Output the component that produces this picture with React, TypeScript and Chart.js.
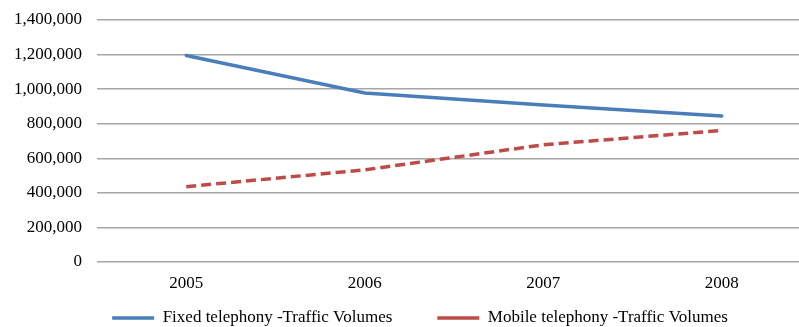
import { useEffect, useRef } from "react";
import { Chart, registerables } from "chart.js";

Chart.register(...registerables);

// Traffic volumes per year
const years = ["2005", "2006", "2007", "2008"];
const fixedTraffic = [1195000, 978000, 908000, 845000];
const mobileTraffic = [436000, 533000, 678000, 761000];

const fixedLabel = "Fixed telephony -Traffic Volumes";
const mobileLabel = "Mobile telephony -Traffic Volumes";

const yMin = 0;
const yMax = 1400000;
const yStep = 200000;

const FONT = "'Liberation Serif', 'Times New Roman', serif";

const CANVAS_W = 811;
const CANVAS_H = 327;

// Moves the bottom legend after layout so it sits centred under the page
// rather than under the wider canvas, and closer to the year labels.
const legendOffset = {
  id: "legendOffset",
  afterLayout(chart: any) {
    const lg = chart.legend;
    if (!lg) return;
    const dx = 14.5;
    const dy = -32.5;
    lg.left += dx;
    lg.right += dx;
    lg.top += dy;
    lg.bottom = CANVAS_H;
    lg.height = lg.bottom - lg.top;
  },
};

export default function App() {
  const canvasRef = useRef<HTMLCanvasElement | null>(null);

  useEffect(() => {
    const canvas = canvasRef.current;
    if (!canvas) return;

    const chart = new Chart(canvas, {
      type: "line",
      data: {
        labels: years,
        datasets: [
          {
            label: fixedLabel,
            data: fixedTraffic,
            borderColor: "#4a7ebb",
            backgroundColor: "#4a7ebb",
            borderWidth: 3.5,
            pointRadius: 0,
            tension: 0,
            borderCapStyle: "round",
            borderJoinStyle: "round",
          },
          {
            label: mobileLabel,
            data: mobileTraffic,
            borderColor: "#be4b48",
            backgroundColor: "#be4b48",
            borderWidth: 3.5,
            borderDash: [10, 5],
            pointRadius: 0,
            tension: 0,
          },
        ],
      },
      options: {
        responsive: false,
        animation: false,
        devicePixelRatio: 1,
        layout: { padding: { left: 0, right: 0, top: 20, bottom: 0 } },
        plugins: {
          tooltip: { enabled: false },
          legend: {
            position: "bottom",
            maxHeight: 30,
            labels: {
              usePointStyle: true,
              pointStyle: "line",
              pointStyleWidth: 42,
              padding: 45,
              color: "#000",
              font: { family: FONT, size: 17 },
            },
          },
        },
        scales: {
          x: {
            offset: true,
            grid: { display: false },
            border: { display: false },
            ticks: {
              color: "#000",
              padding: 3,
              maxRotation: 0,
              font: { family: FONT, size: 17 },
            },
            afterFit: (scale: any) => {
              scale.height = 35;
            },
          },
          y: {
            min: yMin,
            max: yMax,
            grid: { color: "#a6a6a6", lineWidth: 1.5, drawTicks: false },
            border: { display: false },
            ticks: {
              stepSize: yStep,
              padding: 15,
              color: "#000",
              font: { family: FONT, size: 17 },
              callback: (v: any) => Number(v).toLocaleString("en-US"),
            },
            afterFit: (scale: any) => {
              scale.width = 97;
              scale.paddingTop = 0;
            },
          },
        },
      },
      plugins: [legendOffset],
    });

    return () => chart.destroy();
  }, []);

  return (
    <div style={{ position: "fixed", left: 0, top: 0, width: CANVAS_W, height: CANVAS_H, background: "#fff" }}>
      <canvas ref={canvasRef} width={CANVAS_W} height={CANVAS_H} style={{ display: "block" }} />
    </div>
  );
}
